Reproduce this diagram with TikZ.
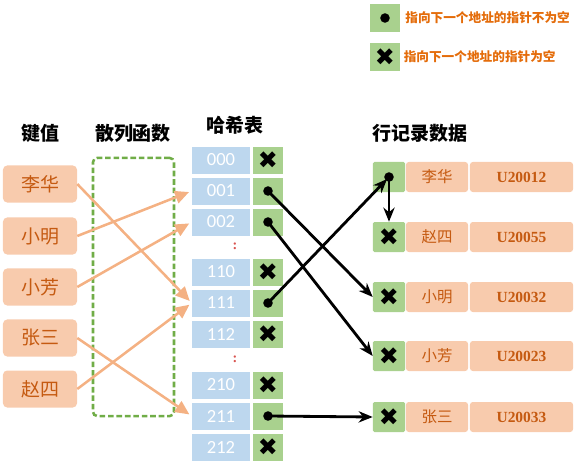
\documentclass[tikz,border=0pt]{standalone}
\usepackage{fontspec}
\setmainfont{Liberation Serif}
\newfontfamily\cjk{Noto Sans CJK SC}
\newfontfamily\numfont{Carlito}
\newfontfamily\symfont{DejaVu Sans}
\usetikzlibrary{arrows.meta, positioning}

\definecolor{keyfill}{HTML}{F8CBAD}
\definecolor{keytext}{HTML}{C55A11}
\definecolor{keyline}{HTML}{F4B183}
\definecolor{hashfill}{HTML}{BDD7EE}
\definecolor{ptrfill}{HTML}{A9D18E}
\definecolor{funcline}{HTML}{70AD47}
\definecolor{legendtext}{HTML}{E46C0A}
\definecolor{gapmark}{HTML}{D9534F}

\newcommand{\nullmark}{{\symfont\fontsize{17pt}{17pt}\selectfont ✖}}

\begin{document}
\begin{tikzpicture}[x=0.025cm, y=-0.025cm,
    header/.style={font=\cjk\bfseries\fontsize{13.5pt}{16pt}\selectfont},
    keybox/.style={fill=keyfill, rounded corners=3pt, minimum width=1.85cm, minimum height=0.925cm,
        text=keytext, font=\cjk\fontsize{13.5pt}{16pt}\selectfont},
    funcbox/.style={draw=funcline, line width=1.8pt, dash pattern=on 4pt off 2pt, rounded corners=3pt,
        minimum width=2.025cm, minimum height=6.45cm},
    hashcell/.style={fill=hashfill, minimum width=1.45cm, minimum height=0.675cm, text=white,
        font=\numfont\fontsize{13.2pt}{15pt}\selectfont},
    ptrcell/.style={fill=ptrfill, minimum width=0.75cm, minimum height=0.675cm, inner sep=0pt},
    recptr/.style={fill=ptrfill, rounded corners=1pt, minimum width=0.8cm, minimum height=0.75cm, inner sep=0pt},
    recname/.style={fill=keyfill, rounded corners=2pt, minimum width=1.55cm, minimum height=0.75cm,
        text=keytext, font=\cjk\fontsize{11pt}{13pt}\selectfont},
    reccode/.style={fill=keyfill, rounded corners=2pt, minimum width=2.575cm, minimum height=0.75cm,
        text=keytext, font=\bfseries\fontsize{11pt}{13pt}\selectfont},
    legendbox/.style={fill=ptrfill, minimum width=0.75cm, minimum height=0.7cm, inner sep=0pt},
    legendlabel/.style={text=legendtext, inner sep=0pt, font=\cjk\bfseries\fontsize{9pt}{10pt}\selectfont},
    gapdots/.style={text=gapmark, font=\bfseries\fontsize{10pt}{10pt}\selectfont},
    keyarrow/.style={draw=keyline, line width=1.8pt, -{Triangle[length=10pt, width=9pt]}, shorten >=2pt},
    ptrarrow/.style={draw=black, line width=2pt, -{Stealth[length=10pt, width=8pt]}}
]
    % 1. Canvas
    \useasboundingbox (0,0) rectangle (574,468);

    % 2. Legend
    \node[legendbox] (lg1) at (385,18) {};
    \fill (lg1.center) circle[radius=3.4pt];
    \node[legendlabel, right=0.12cm of lg1] (lt1) {指向下一个地址的指针不为空};
    \node[legendbox] (lg2) at (385,57) {\nullmark};
    \node[legendlabel, right=0.08cm of lg2] (lt2) {指向下一个地址的指针为空};

    % 3. Column headers
    \node[header] (hKey) at (40,133) {键值};
    \node[header] (hFunc) at (133,133) {散列函数};
    \node[header] (hTable) at (235,125) {哈希表};
    \node[header] (hRec) at (420,133) {行记录数据};

    % 4. Keys and hash function
    \foreach \i/\name/\y in {1/李华/184, 2/小明/236, 3/小芳/287, 4/张三/338, 5/赵四/389}
        \node[keybox] (key\i) at (40,\y) {\name};
    \node[funcbox] (func) at (133.5,287) {};

    % 5. Hash table: slot and pointer cell
    \foreach \lab/\y in {000/160, 001/191, 002/222, 110/272, 111/303, 112/334, 210/385, 211/416, 212/447} {
        \node[hashcell] (h\lab) at (221,\y) {\lab};
        \node[ptrcell] (p\lab) at (268,\y) {};
    }
    \foreach \lab in {000, 110, 112, 210, 212}
        \node at (p\lab.center) {\nullmark};
    \node[gapdots] (gap1) at (235,246) {:};
    \node[gapdots] (gap2) at (235,359) {:};

    % 6. Row records
    \foreach \i/\name/\code/\y in {1/李华/U20012/177, 2/赵四/U20055/237, 3/小明/U20032/297,
                                   4/小芳/U20023/356, 5/张三/U20033/417} {
        \node[recptr] (r\i p) at (389,\y) {};
        \node[recname] (r\i n) at (437,\y) {\name};
        \node[reccode] (r\i c) at (521.5,\y) {\code};
    }
    \foreach \i in {2,3,4,5}
        \node at (r\i p.center) {\nullmark};

    % 7. Hash function arrows
    \draw[keyarrow] (key1.east) -- (h111.west);
    \draw[keyarrow] (key2.east) -- (h001.west);
    \draw[keyarrow] (key3.east) -- (h002.west);
    \draw[keyarrow] (key4.east) -- (h211.west);
    \draw[keyarrow] (key5.east) -- (h111.west);

    % 8. Pointers
    \draw[ptrarrow] (p001.center) -- (r3p.west);
    \draw[ptrarrow] (p002.center) -- (r4p.west);
    \draw[ptrarrow, shorten >=2pt] (p111.center) -- (r1p.center);
    \draw[ptrarrow] (p211.center) -- (r5p.west);
    \draw[ptrarrow] (r1p.center) -- (r2p.north);
    \foreach \c in {p001, p002, p111, p211, r1p}
        \fill (\c.center) circle[radius=3.4pt];
\end{tikzpicture}
\end{document}
